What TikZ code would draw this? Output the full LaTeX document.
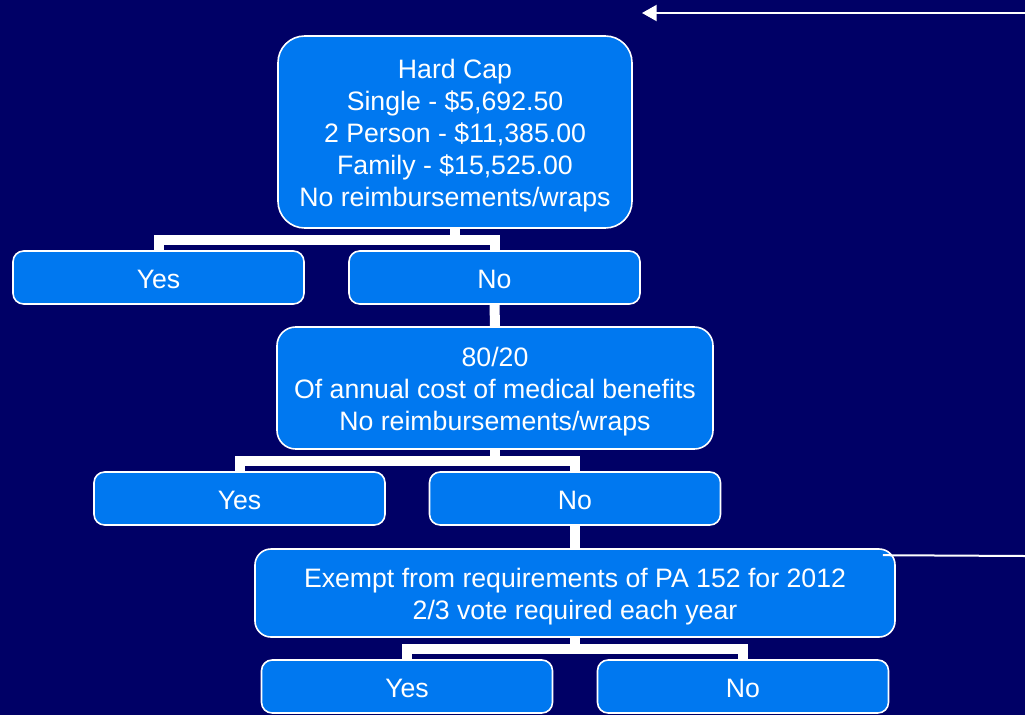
\documentclass[tikz,border=0pt]{standalone}
\usepackage{fontspec}
\setmainfont{Liberation Sans}
\usetikzlibrary{arrows.meta}
\definecolor{navybg}{RGB}{0,0,102}
\definecolor{boxblue}{RGB}{0,120,240}
\newcommand{\topstrut}{\rule{0pt}{20pt}}
\tikzset{
    box/.style={draw=white, line width=1.2pt, fill=boxblue, text=white, align=center,
        inner sep=0pt, rounded corners=8pt, minimum width=218.25pt, minimum height=39.75pt,
        font=\fontsize{20}{24}\selectfont},
    answer/.style={box, execute at begin node={\rule{0pt}{17pt}}},
    conn/.style={draw=white, line width=7.5pt},
}
\begin{document}
\begin{tikzpicture}[x=0.75pt, y=-0.75pt]
        % background
        \fill[navybg] (0,0) rectangle (1025,715);
        \useasboundingbox (0,0) rectangle (1025,715);

        % decision boxes
        \node[box, minimum width=265.5pt, minimum height=144pt, rounded corners=20pt] (hardcap) at (455,132)
            {\topstrut Hard Cap\\Single - \$5,692.50\\2 Person - \$11,385.00\\Family - \$15,525.00\\No reimbursements/wraps};
        \node[answer] (yes1) at (158.5,277.5) {Yes};
        \node[answer] (no1) at (494.5,277.5) {No};
        \node[box, minimum width=327pt, minimum height=91.5pt, rounded corners=14pt] (cost) at (495,388)
            {\topstrut 80/20\\Of annual cost of medical benefits\\No reimbursements/wraps};
        \node[answer] (yes2) at (239.5,498.5) {Yes};
        \node[answer] (no2) at (575,498.5) {No};
        \node[box, minimum width=480pt, minimum height=66pt, rounded corners=12pt] (exempt) at (575,593)
            {\topstrut Exempt from requirements of PA 152 for 2012\\2/3 vote required each year};
        \node[answer] (yes3) at (407,686.5) {Yes};
        \node[answer] (no3) at (743,686.5) {No};

        % elbow connectors
        \foreach \parent/\yes/\no in {hardcap/yes1/no1, cost/yes2/no2, exempt/yes3/no3} {
            \draw[conn] (\parent.south) -- ++(0,11.5) -| (\yes.north);
            \draw[conn] (\parent.south) -- ++(0,11.5) -| (\no.north);
        }
        \draw[conn] (no1.south) -- (cost.north);
        \draw[conn] (no2.south) -- (exempt.north);

        % side lines
        \coordinate (arrowstart) at (1025,13);
        \coordinate (arrowend) at (642,13);
        \draw[white, line width=1.5pt, -{Triangle[length=11pt, width=12pt]}] (arrowstart) -- (arrowend);
        \coordinate (exemptend) at (1025,556);
        \draw[white, line width=1.5pt] ([xshift=-9.75pt, yshift=-5.25pt]exempt.north east) -- (exemptend);
    \end{tikzpicture}
\end{document}
